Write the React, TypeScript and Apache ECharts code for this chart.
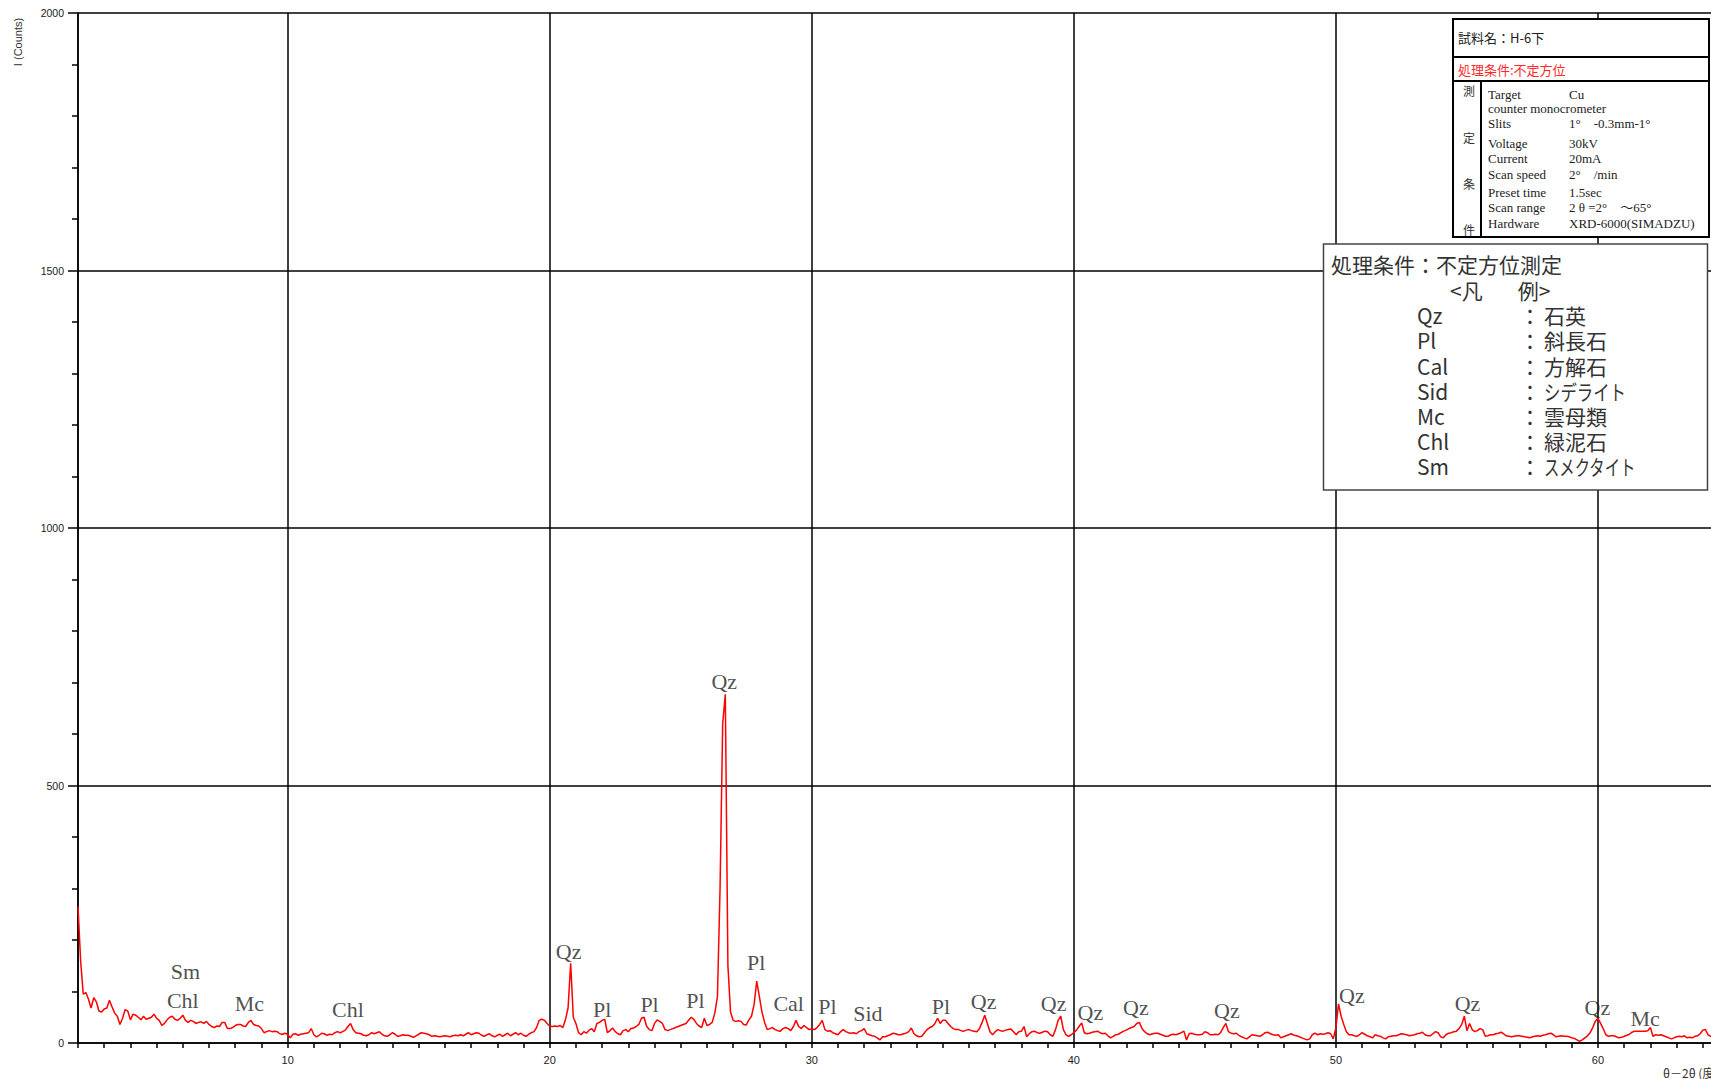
import React, { useEffect, useRef } from "react";
import * as echarts from "echarts";

// 2θ sampling of the intensity trace (degrees)
const X_START = 2.0;
const X_STEP = 0.1;

// Intensity (counts), 2.0° … 65.0° every 0.1°
const intensity: number[] = [
  265, 160, 95, 98, 85, 68, 88, 80, 62, 60,
  66, 68, 83, 70, 58, 52, 36, 48, 65, 62,
  45, 56, 54, 50, 45, 52, 46, 48, 50, 56,
  48, 44, 34, 38, 45, 50, 52, 46, 44, 48,
  54, 44, 40, 44, 42, 38, 40, 41, 38, 42,
  36, 32, 30, 33, 32, 40, 40, 28, 28, 30,
  34, 36, 36, 33, 32, 40, 44, 36, 34, 33,
  28, 20, 22, 24, 22, 23, 22, 18, 17, 19,
  17, 10, 17, 18, 15, 17, 18, 19, 20, 28,
  16, 12, 15, 19, 18, 15, 17, 16, 20, 22,
  20, 22, 25, 32, 38, 26, 20, 19, 18, 15,
  14, 16, 20, 18, 20, 22, 17, 14, 13, 16,
  20, 17, 13, 14, 16, 15, 15, 13, 11, 14,
  17, 20, 19, 18, 16, 13, 14, 13, 12, 13,
  14, 13, 12, 14, 15, 14, 16, 14, 17, 20,
  16, 18, 20, 19, 15, 13, 16, 18, 14, 12,
  15, 17, 13, 16, 19, 14, 17, 20, 16, 19,
  15, 13, 17, 20, 22, 30, 44, 46, 44, 38,
  33, 32, 33, 32, 34, 30, 45, 68, 155, 50,
  38, 20, 16, 22, 19, 25, 28, 22, 38, 40,
  44, 46, 20, 24, 29, 22, 18, 16, 24, 26,
  22, 28, 29, 32, 36, 48, 50, 32, 26, 24,
  38, 45, 42, 38, 26, 24, 26, 28, 30, 32,
  34, 36, 38, 44, 50, 46, 38, 33, 30, 48,
  34, 36, 40, 58, 90, 300, 620, 677, 150, 60,
  44, 42, 43, 42, 36, 35, 45, 52, 75, 120,
  90, 60, 40, 26, 28, 30, 26, 24, 23, 28,
  30, 28, 24, 32, 44, 32, 28, 34, 30, 26,
  27, 26, 30, 36, 44, 26, 23, 24, 20, 18,
  16, 22, 26, 22, 20, 19, 20, 18, 22, 24,
  28, 18, 16, 14, 13, 10, 6, 12, 12, 14,
  16, 19, 18, 16, 16, 18, 19, 22, 29, 18,
  14, 12, 13, 20, 26, 30, 32, 38, 48, 38,
  44, 44, 38, 32, 28, 26, 26, 24, 23, 25,
  26, 24, 23, 22, 28, 40, 54, 38, 22, 16,
  22, 26, 24, 23, 25, 26, 27, 22, 16, 22,
  23, 32, 12, 18, 22, 23, 20, 19, 21, 23,
  22, 16, 13, 26, 44, 52, 26, 16, 13, 16,
  20, 25, 32, 39, 20, 18, 19, 21, 22, 23,
  20, 18, 19, 14, 10, 13, 16, 17, 20, 23,
  25, 28, 30, 32, 38, 40, 28, 22, 18, 16,
  18, 19, 19, 17, 15, 13, 13, 16, 17, 16,
  18, 20, 23, 6, 18, 19, 17, 16, 16, 17,
  22, 20, 16, 16, 17, 16, 20, 30, 38, 22,
  19, 18, 19, 15, 12, 10, 8, 12, 16, 15,
  14, 13, 16, 20, 21, 18, 16, 15, 16, 10,
  12, 14, 16, 18, 15, 14, 12, 10, 8, 6,
  8, 16, 19, 16, 18, 17, 18, 20, 18, 8,
  30, 76, 52, 36, 22, 16, 16, 14, 13, 16,
  20, 17, 14, 12, 10, 16, 14, 13, 10, 8,
  12, 13, 14, 14, 16, 18, 17, 16, 14, 15,
  16, 18, 19, 21, 16, 14, 14, 18, 22, 20,
  12, 10, 16, 19, 20, 22, 23, 28, 36, 52,
  24, 38, 26, 22, 24, 28, 26, 13, 14, 16,
  16, 18, 19, 21, 18, 14, 13, 12, 13, 14,
  14, 13, 12, 11, 10, 12, 13, 14, 13, 15,
  16, 18, 19, 16, 12, 13, 14, 13, 13, 12,
  10, 9, 6, 3, 6, 10, 14, 20, 30, 42,
  48, 38, 28, 16, 13, 14, 14, 12, 10, 11,
  13, 15, 17, 21, 23, 23, 23, 23, 23, 24,
  30, 13, 16, 15, 16, 14, 12, 10, 8, 10,
  12, 13, 12, 14, 10, 11, 10, 13, 14, 18,
  25, 26, 16, 13, 14, 15, 13, 14, 16, 15,
  14,
];

// Mineral peak annotations (label centre in data units)
const peakNames = ["Sm", "Chl", "Mc", "Chl", "Qz", "Pl", "Pl", "Pl", "Qz", "Pl", "Cal", "Pl", "Sid", "Pl", "Qz", "Qz", "Qz", "Qz", "Qz", "Qz", "Qz", "Qz", "Mc"];
const peakX = [6.1, 6.0, 8.54, 12.3, 20.72, 22.0, 23.81, 25.56, 26.66, 27.88, 29.12, 30.6, 32.14, 34.93, 36.56, 39.23, 40.63, 42.37, 45.84, 50.61, 55.02, 59.98, 61.8];
const peakY = [139, 82, 76, 65, 177, 66, 74, 82, 702, 157, 76, 70, 58, 70, 80, 77, 60, 68, 63, 93, 76, 68, 47];

// Measurement-condition box
const sampleName = "試料名：H-6下";
const treatment = "処理条件:不定方位";
const condVertical = ["測", "定", "条", "件"];
const condLabels = ["Target", "counter monocrometer", "Slits", "Voltage", "Current", "Scan speed", "Preset time", "Scan range", "Hardware"];
const condValues = ["Cu", "", "1°　-0.3mm-1°", "30kV", "20mA", "2°　/min", "1.5sec", "2 θ =2°　～65°", "XRD-6000(SIMADZU)"];

// Legend box
const legendTitle = "処理条件：不定方位測定";
const legendHeader = "<凡　   例>";
const legendAbbr = ["Qz", "Pl", "Cal", "Sid", "Mc", "Chl", "Sm"];
const legendNames = ["石英", "斜長石", "方解石", "シデライト", "雲母類", "緑泥石", "スメクタイト"];
// horizontal squeeze of the proportional kana in the original font
const legendNameScale = [1, 1, 1, 0.78, 1, 1, 0.73];

const SERIF = "'Liberation Serif', 'Noto Sans CJK JP', serif";
const JP = "'Noto Sans CJK JP', sans-serif";

function txt(x: number, y: number, text: string, size: number, family: string, color: string, align = "left", scaleX = 1) {
  return {
    type: "text",
    x,
    y,
    scaleX,
    z: 110,
    silent: true,
    style: {
      text,
      fill: color,
      fontSize: size,
      fontFamily: family,
      align,
      verticalAlign: "middle",
      textAlign: align,
      textVerticalAlign: "middle",
    },
  };
}

function line(x1: number, y1: number, x2: number, y2: number, color: string, w: number) {
  return {
    type: "line",
    z: 105,
    silent: true,
    shape: { x1, y1, x2, y2 },
    style: { stroke: color, lineWidth: w },
  };
}

export default function App() {
  const ref = useRef<HTMLDivElement>(null);

  useEffect(() => {
    if (!ref.current) return;
    const chart = echarts.init(ref.current, undefined, { renderer: "svg" });

    const lineData = intensity.map((v, i) => [Number((X_START + i * X_STEP).toFixed(2)), v]);
    const labelData = peakNames.map((n, i) => ({ name: n, value: [peakX[i], peakY[i]] }));

    const condRowY = [94, 108, 123, 143, 158, 174, 192, 207, 223];
    const condVertY = [90, 137, 183, 229];
    const legendRowY = [315, 340, 366, 391, 416, 441, 466];

    const graphics: any[] = [
      // condition box
      {
        type: "rect",
        z: 100,
        silent: true,
        shape: { x: 1453, y: 19, width: 256, height: 218 },
        style: { fill: "#fff", stroke: "#000", lineWidth: 2 },
      },
      line(1453, 57, 1709, 57, "#000", 2),
      line(1453, 81, 1709, 81, "#000", 2),
      line(1481, 81, 1481, 237, "#000", 2),
      txt(1458, 37, sampleName, 13, JP, "#222"),
      txt(1458, 69, treatment, 13, JP, "#ff2a2a"),
      ...condVertical.map((c, i) => txt(1469, condVertY[i], c, 12, JP, "#333", "center")),
      ...condLabels.map((c, i) => txt(1488, condRowY[i], c, 13, SERIF, "#222")),
      ...condValues.map((c, i) => txt(1569, condRowY[i], c, 13, SERIF, "#222")),
      // legend box
      {
        type: "rect",
        z: 100,
        silent: true,
        shape: { x: 1323.5, y: 244, width: 384, height: 246 },
        style: { fill: "#fff", stroke: "#444", lineWidth: 1.5 },
      },
      txt(1331, 264, legendTitle, 21, JP, "#333"),
      txt(1450, 290, legendHeader, 21, JP, "#333"),
      ...legendAbbr.map((a, i) => txt(1417, legendRowY[i], a, 21, JP, "#333")),
      ...legendNames.map((_, i) => txt(1530, legendRowY[i], "：", 21, JP, "#333", "center")),
      ...legendNames.map((n, i) => txt(1544, legendRowY[i], n, 21, JP, "#333", "left", legendNameScale[i])),
      // axis names
      {
        type: "text",
        x: 18,
        y: 42,
        rotation: Math.PI / 2,
        z: 110,
        silent: true,
        style: {
          text: "I (Counts)",
          fill: "#333",
          fontSize: 11,
          fontFamily: "'Liberation Sans', sans-serif",
          align: "center",
          verticalAlign: "middle",
          textAlign: "center",
          textVerticalAlign: "middle",
        },
      },
      txt(1663, 1072, "θ－2θ (度)", 12, JP, "#333"),
    ];

    const option: any = {
      animation: false,
      backgroundColor: "#fff",
      grid: {
        left: 78,
        top: 13,
        width: 1651,
        height: 1030,
        containLabel: false,
        outerBoundsMode: "none",
      },
      xAxis: {
        type: "value",
        min: 2,
        max: 65,
        splitNumber: 6,
        axisLine: { show: true, lineStyle: { color: "#000", width: 1.5 } },
        axisTick: { show: true, length: 5, lineStyle: { color: "#000", width: 1.5 } },
        minorTick: { show: true, splitNumber: 10, length: 5, lineStyle: { color: "#000", width: 1.5 } },
        splitLine: { show: true, lineStyle: { color: "#000", width: 1.5 } },
        axisLabel: {
          showMinLabel: false,
          showMaxLabel: false,
          margin: 11,
          fontSize: 11,
          color: "#222",
          fontFamily: "'Liberation Sans', sans-serif",
          formatter: (v: number) => String(v),
        },
      },
      yAxis: {
        type: "value",
        min: 0,
        max: 2000,
        interval: 500,
        axisLine: { show: true, lineStyle: { color: "#000", width: 1.5 } },
        axisTick: { show: true, length: 10, lineStyle: { color: "#000", width: 1.5 } },
        minorTick: { show: true, splitNumber: 5, length: 6, lineStyle: { color: "#000", width: 1.5 } },
        splitLine: { show: true, lineStyle: { color: "#000", width: 1.5 } },
        axisLabel: {
          margin: 14,
          fontSize: 10.5,
          color: "#222",
          fontFamily: "'Liberation Sans', sans-serif",
          formatter: (v: number) => String(v),
        },
      },
      series: [
        {
          type: "line",
          data: lineData,
          symbol: "none",
          showSymbol: false,
          lineStyle: { color: "#ff0000", width: 1.5 },
          z: 3,
          silent: true,
        },
        {
          type: "scatter",
          data: labelData,
          symbolSize: 1,
          itemStyle: { color: "rgba(0,0,0,0)" },
          silent: true,
          z: 4,
          label: {
            show: true,
            position: "inside",
            formatter: "{b}",
            color: "#222",
            fontSize: 22,
            fontFamily: SERIF,
          },
        },
      ],
      graphic: { elements: graphics },
    };

    chart.setOption(option);
    return () => chart.dispose();
  }, []);

  return (
    <div
      ref={ref}
      style={{ position: "fixed", left: 0, top: 0, width: 1711, height: 1079, background: "#fff" }}
    />
  );
}
